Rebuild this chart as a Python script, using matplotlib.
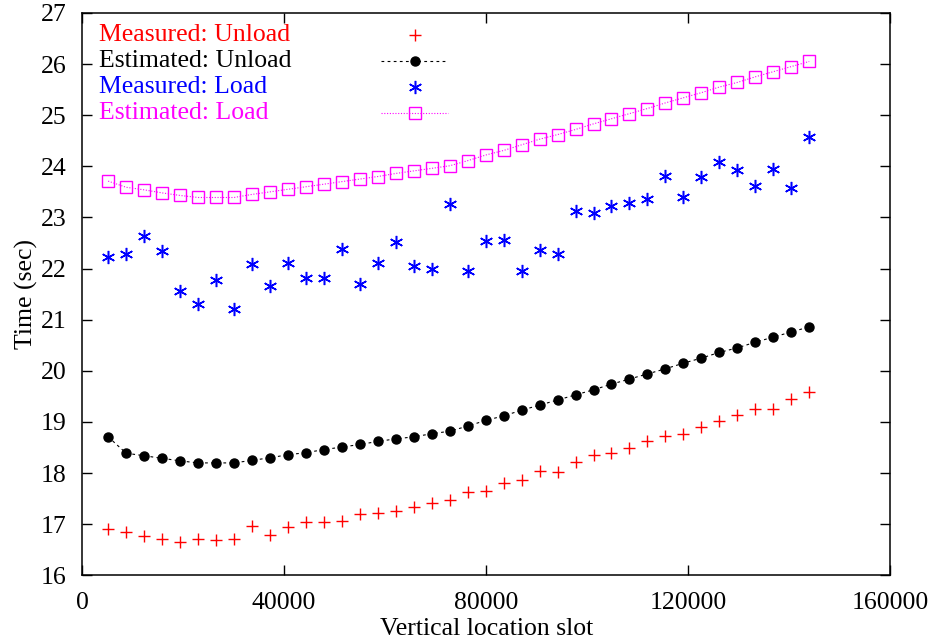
import matplotlib
matplotlib.use("Agg")
import matplotlib.pyplot as plt

plt.rcParams['font.family'] = ['Liberation Serif', 'DejaVu Serif']

x_slots = [5140, 8700, 12260, 15820, 19380, 22940, 26500, 30060, 33620, 37180,
           40740, 44300, 47860, 51420, 54980, 58540, 62100, 65660, 69220, 72780,
           76340, 79900, 83460, 87020, 90580, 94140, 97700, 101260, 104820, 108380,
           111940, 115500, 119060, 122620, 126180, 129740, 133300, 136860, 140420, 143980]

measured_unload = [16.90, 16.84, 16.77, 16.71, 16.66, 16.71, 16.69, 16.71, 16.97, 16.80,
                   16.94, 17.04, 17.05, 17.06, 17.21, 17.22, 17.25, 17.33, 17.41, 17.47,
                   17.63, 17.66, 17.81, 17.86, 18.04, 18.02, 18.22, 18.36, 18.40, 18.50,
                   18.62, 18.73, 18.77, 18.90, 19.02, 19.14, 19.26, 19.26, 19.45, 19.59]

estimated_unload = [18.71, 18.39, 18.34, 18.29, 18.24, 18.20, 18.20, 18.20, 18.25, 18.30,
                    18.36, 18.40, 18.46, 18.51, 18.56, 18.62, 18.67, 18.71, 18.77, 18.82,
                    18.92, 19.03, 19.12, 19.23, 19.33, 19.43, 19.53, 19.63, 19.74, 19.84,
                    19.94, 20.04, 20.15, 20.25, 20.36, 20.45, 20.56, 20.66, 20.76, 20.86]

measured_load = [22.23, 22.29, 22.64, 22.34, 21.56, 21.31, 21.78, 21.20, 22.09, 21.65,
                 22.10, 21.81, 21.81, 22.38, 21.69, 22.10, 22.52, 22.05, 21.99, 23.26,
                 21.95, 22.53, 22.55, 21.95, 22.36, 22.28, 23.12, 23.08, 23.23, 23.28,
                 23.36, 23.82, 23.40, 23.80, 24.08, 23.93, 23.61, 23.94, 23.58, 24.57]

estimated_load = [23.71, 23.59, 23.54, 23.48, 23.43, 23.39, 23.39, 23.39, 23.45, 23.50,
                  23.55, 23.60, 23.65, 23.70, 23.75, 23.80, 23.86, 23.91, 23.96, 24.01,
                  24.11, 24.22, 24.31, 24.42, 24.53, 24.62, 24.72, 24.83, 24.93, 25.03,
                  25.13, 25.24, 25.34, 25.44, 25.55, 25.64, 25.75, 25.85, 25.95, 26.05]

x_ticks = [0, 40000, 80000, 120000, 160000]
y_ticks = list(range(16, 28))
labels = ["Measured: Unload", "Estimated: Unload", "Measured: Load", "Estimated: Load"]

FS = 18.5
fig = plt.figure(figsize=(9.35, 6.44), dpi=100)
ax = fig.add_axes([0.0879, 0.1065, 0.952 - 0.0879, 0.98 - 0.1065])

red = '#ff0000'
blue = '#0000ff'
mag = '#ff00ff'

styles = [
    dict(color=red, linestyle='none', marker='+', markersize=8, markeredgewidth=1.0),
    dict(color='black', linestyle=(0, (2.5, 3)), linewidth=0.8, marker='o', markersize=6.5),
    dict(color=blue, linestyle='none', marker=(6, 2, 0), markersize=9.5, markeredgewidth=1.1),
    dict(color=mag, linestyle=(0, (1, 1.5)), linewidth=0.8, marker='s', markersize=8,
         markerfacecolor='none', markeredgewidth=1.0),
]
series = [measured_unload, estimated_unload, measured_load, estimated_load]
for ys, st in zip(series, styles):
    ax.plot(x_slots, ys, clip_on=False, **st)

ax.set_xlim(0, 160000)
ax.set_ylim(16, 27)
ax.set_xticks(x_ticks)
ax.set_yticks(y_ticks)
ax.tick_params(direction='in', top=True, right=True, length=7, width=1.0,
               labelsize=FS, pad=11)
ax.tick_params(axis='x', pad=12)
for sp in ax.spines.values():
    sp.set_linewidth(1.1)

ax.set_xlabel("Vertical location slot", fontsize=FS, labelpad=3)
ax.set_ylabel("Time (sec)", fontsize=FS, labelpad=2)

# key (gnuplot style: left-justified text, samples to the right)
text_colors = [red, 'black', blue, mag]
row_y = [0.9608, 0.9147, 0.8684, 0.8222]
for lab, col, yy, st in zip(labels, text_colors, row_y, styles):
    ax.text(0.0208, yy, lab, color=col, fontsize=FS, transform=ax.transAxes,
            ha='left', va='center')
    if st['linestyle'] != 'none':
        ax.plot([0.370, 0.4525], [yy, yy], transform=ax.transAxes, color=st['color'],
                linestyle=st['linestyle'], linewidth=st['linewidth'])
    mk = {k: v for k, v in st.items() if k not in ('linestyle', 'linewidth')}
    ax.plot([0.4114], [yy], transform=ax.transAxes, linestyle='none', **mk)

fig.savefig("out.png", dpi=100)
